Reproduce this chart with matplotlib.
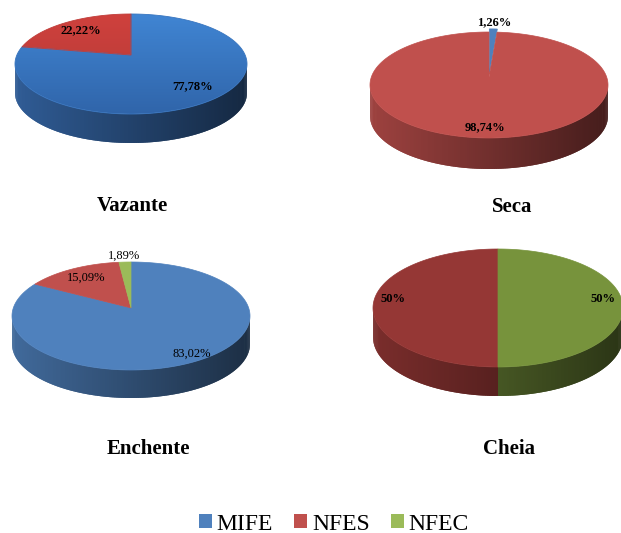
import numpy as np
import matplotlib.pyplot as plt
from matplotlib.patches import Polygon, Patch
from matplotlib.colors import to_rgb

# share of each group per hydrological period (%)
categories = ['MIFE', 'NFES', 'NFEC']
vazante = [77.78, 22.22, 0]
seca = [1.26, 98.74, 0]
enchente = [83.02, 15.09, 1.89]
cheia = [0, 50, 50]
labels_vazante = ['77,78%', '22,22%', '']
labels_seca = ['1,26%', '98,74%', '']
labels_enchente = ['83,02%', '15,09%', '1,89%']
labels_cheia = ['', '50%', '50%']

W, H = 621, 533
fig = plt.figure(figsize=(6.21, 5.33), dpi=100)
ax = fig.add_axes([0, 0, 1, 1])

SERIF = 'Liberation Serif'


def project(u, v, g):
    # simple perspective: disk coords (u right, v towards viewer) -> screen
    k = g['k']
    w = 1 - k * v
    X = u * np.sqrt(1 - k ** 2) / w
    Y = (v - k) / w
    return g['cx'] + g['rx'] * X, g['cy'] + g['ry'] * Y


def shade(color, f):
    return tuple(np.clip(np.array(to_rgb(color)) * f, 0, 1))


def draw_side(g, a0, a1, color, f0=0.82, f1=0.36):
    # visible part of the rim is the front half, between lo and hi
    k = g['k']
    lo = np.arccos(-k)
    hi = 2 * np.pi - lo
    for shift in (-2 * np.pi, 0, 2 * np.pi):
        s0, s1 = max(a0 + shift, lo), min(a1 + shift, hi)
        if s1 <= s0:
            continue
        n = max(2, int((s1 - s0) / (2 * np.pi) * 400))
        th = np.linspace(s0, s1, n + 1)
        x, y = project(np.sin(th), -np.cos(th), g)
        d = g['depth']
        for i in range(n):
            j = min(i + 2, n)
            xm = (x[i] + x[i + 1]) / 2
            t = (xm - (g['cx'] - g['rx'])) / (2 * g['rx'])
            c = shade(color, f0 + (f1 - f0) * t)
            quad = [(x[i], y[i]), (x[j], y[j]), (x[j], y[j] + d), (x[i], y[i] + d)]
            ax.add_patch(Polygon(quad, closed=True, fc=c, ec='none', zorder=2))


def draw_top(g, a0, a1, c_top, c_bot, explode=0.0):
    mid = (a0 + a1) / 2
    du, dv = explode * np.sin(mid), -explode * np.cos(mid)
    th = np.linspace(a0, a1, max(3, int((a1 - a0) / (2 * np.pi) * 400)))
    u = np.concatenate([[0], np.sin(th), [0]]) + du
    v = np.concatenate([[0], -np.cos(th), [0]]) + dv
    x, y = project(u, v, g)
    pts = np.column_stack([x, y])
    if c_top == c_bot:
        ax.add_patch(Polygon(pts, closed=True, fc=c_top, ec=c_top, lw=0.5, zorder=3))
        return
    patch = Polygon(pts, closed=True, fc='none', ec='none', zorder=3)
    ax.add_patch(patch)
    ramp = np.linspace(0, 1, 128)[:, None, None]
    img = np.array(to_rgb(c_top)) * (1 - ramp) + np.array(to_rgb(c_bot)) * ramp
    y0, y1 = g['cy'] - g['ry'], g['cy'] + g['ry']
    im = ax.imshow(img, extent=(x.min(), x.max(), y1, y0), aspect='auto',
                   interpolation='bilinear', zorder=3)
    im.set_clip_path(patch)
    mid_c = tuple((np.array(to_rgb(c_top)) + np.array(to_rgb(c_bot))) / 2)
    ax.add_patch(Polygon(pts, closed=True, fill=False, ec=mid_c, lw=0.6, zorder=3.1))


def draw_pie(g, values, labels, colors_top, colors_bot, side_colors,
             label_r, bold=True, explode=None):
    total = sum(values)
    start = np.deg2rad(g.get('start', 0))
    edges = start + np.concatenate([[0], np.cumsum(values)]) / total * 2 * np.pi
    explode = explode or [0] * len(values)
    for i, val in enumerate(values):
        if val > 0:
            draw_side(g, edges[i], edges[i + 1], side_colors[i])
    for i, val in enumerate(values):
        if val > 0:
            draw_top(g, edges[i], edges[i + 1], colors_top[i], colors_bot[i], explode[i])
    for i, val in enumerate(values):
        if val <= 0 or not labels[i]:
            continue
        mid = (edges[i] + edges[i + 1]) / 2
        r = label_r[i]
        lx, ly = project(r * np.sin(mid), -r * np.cos(mid), g)
        ax.text(lx, ly, labels[i], ha='center', va='center', fontsize=9,
                family=SERIF, fontweight='bold' if bold else 'normal',
                color='black', zorder=5)
    ax.text(g['tx'], g['ty'], g['title'], ha='center', va='center', fontsize=15,
            family=SERIF, fontweight='bold', color='black')


blue, red, green = '#4f81bd', '#c0504d', '#9bbb59'

g_vaz = dict(cx=131, cy=64, rx=116, ry=50, k=0.18, depth=29,
             title='Vazante', tx=132, ty=206)
draw_pie(g_vaz, vazante, labels_vazante,
         ['#4085d3', '#cf413d', green], ['#3065aa', '#b13936', green],
         ['#3a70b6', '#c0443f', green], [0.75, 0.75, 0.75])

g_seca = dict(cx=489, cy=85, rx=119, ry=53, k=0.15, depth=31,
              title='Seca', tx=512, ty=207)
draw_pie(g_seca, seca, labels_seca, [blue, red, green], [blue, red, green],
         [blue, red, green], [1.25, 0.85, 0.85], explode=[0.08, 0, 0])

g_enc = dict(cx=131, cy=316, rx=119, ry=54, k=0.15, depth=28,
             title='Enchente', tx=148, ty=449)
draw_pie(g_enc, enchente, labels_enchente, [blue, red, green], [blue, red, green],
         [blue, red, green], [0.9, 0.75, 1.15], bold=False)

g_che = dict(cx=498, cy=308, rx=125, ry=59, k=0.15, depth=29, start=180,
             title='Cheia', tx=509, ty=449)
draw_pie(g_che, cheia, labels_cheia, [blue, '#953735', '#77933c'],
         [blue, '#953735', '#77933c'], [blue, '#953735', '#77933c'],
         [0.85, 0.85, 0.85])

ax.set_xlim(0, W)
ax.set_ylim(H, 0)
ax.axis('off')

handles = [Patch(facecolor=c, edgecolor='none') for c in (blue, red, green)]
fig.legend(handles, categories, loc='center', bbox_to_anchor=(334 / W, 1 - 524 / H),
           ncol=3, frameon=False, prop={'family': SERIF, 'size': 17},
           handlelength=0.55, handleheight=0.55, handletextpad=0.2,
           columnspacing=0.9, borderpad=0.1)

fig.savefig('out.png', dpi=100, facecolor='white')
